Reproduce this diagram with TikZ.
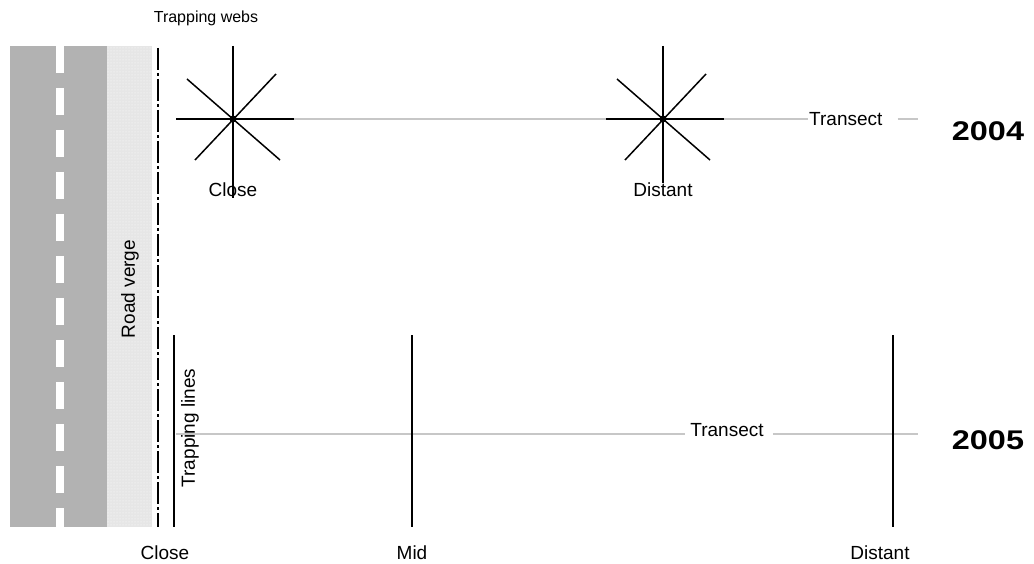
\documentclass[tikz,border=0pt]{standalone}
\usepackage{fontspec}
\setmainfont{Liberation Sans}
\usetikzlibrary{patterns}

\begin{document}
\begin{tikzpicture}[x=1pt, y=-1pt,
    lbl/.style={font=\fontsize{19}{21}\selectfont, inner sep=1pt},
    year/.style={font=\fontsize{27}{29}\selectfont\bfseries, xscale=1.2},
    transect/.style={draw=black!22, line width=1.5pt},
    trapline/.style={draw=black, line width=2pt}]

        % Frame of the whole picture
        \useasboundingbox (0,0) rectangle (1034,564);

        % Color definition for clarity
        \definecolor{asphalt}{HTML}{B2B2B2}
        \definecolor{verge}{HTML}{E6E6E6}

        % === ROAD AND VERGE ===
        \fill[asphalt] (10,46) rectangle (107,527);
        \draw[white, line width=8pt, dash pattern=on 27pt off 15pt] (60,46) -- (60,527);
        \fill[verge] (107,46) rectangle (152,527);
        \fill[pattern=dots, pattern color=white] (107,46) rectangle (152,527);
        \draw[line width=2pt, dash pattern=on 22pt off 3pt on 3pt off 3pt] (158,48) -- (158,527);
        \node[lbl, rotate=90] (roadverge) at (130,289) {Road verge};

        % === 2004: TRAPPING WEBS ===
        \node[font=\fontsize{16}{18}\selectfont] (webs) at (206,18) {Trapping webs};
        \node[lbl, anchor=west, fill=white] (transA) at (808,119) {Transect};
        \coordinate (endA) at (918,119);
        \draw[transect] (176,119) -- (transA.west);
        \draw[transect] (transA.east) ++(14,0) -- (endA);

        % Webs: centre x / lower end of the vertical arm / name
        \foreach \cx/\lo/\nm in {233/198/close, 663/183/distant}{
            \draw[line width=2pt] (\cx,46) -- (\cx,\lo);
            \draw[line width=2pt] (\cx-57,119) -- (\cx+61,119);
            \draw[line width=1.5pt] (\cx-46,79) -- (\cx+47,160);
            \draw[line width=1.5pt] (\cx+43,74) -- (\cx-38,160);
            \fill (\cx,119) circle (3.5);
        }
        \node[lbl] (webclose) at (233,190) {Close};
        \node[lbl] (webdistant) at (663,190) {Distant};
        \node[year] (yearA) at (988,131) {2004};

        % === 2005: TRAPPING LINES ===
        \node[lbl, fill=white] (transB) at (727,430) {Transect};
        \coordinate (startB) at (176,434);
        \coordinate (endB) at (918,434);
        \draw[transect] (startB) -- ([xshift=-4pt]startB -| transB.west);
        \draw[transect] ([xshift=8pt]endB -| transB.east) -- (endB);

        \draw[trapline] (174,335) -- (174,527);
        \draw[trapline] (412,335) -- (412,527);
        \draw[trapline] (893,335) -- (893,527);
        \node[lbl, rotate=90] (lines) at (190,428) {Trapping lines};
        \node[lbl] (lineclose) at (165,553) {Close};
        \node[lbl] (linemid) at (412,553) {Mid};
        \node[lbl] (linedistant) at (880,553) {Distant};
        \node[year] (yearB) at (988,440) {2005};

\end{tikzpicture}
\end{document}
